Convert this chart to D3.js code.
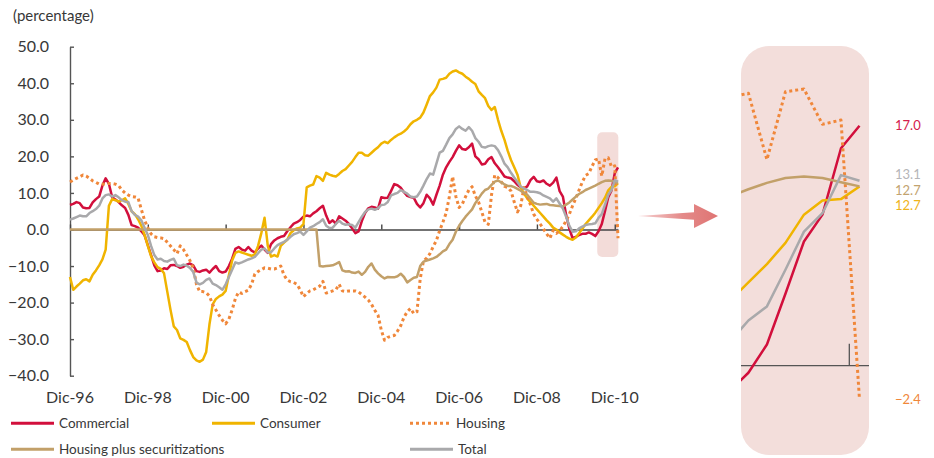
<!DOCTYPE html>
<html>
<head>
<meta charset="utf-8">
<script src="https://cdn.jsdelivr.net/npm/d3@7"></script>
<style>
  body { margin: 0; background: #fff; }
  svg { font-family: Lato, "Open Sans", sans-serif; }
</style>
</head>
<body>
<svg id="chart" width="934" height="458"></svg>
<script>
// Monthly series, Dec-96 (index 0) to Jan-11 (index 169)
const commercial = [
  6.7, 7.0, 7.5, 7.2, 6.0, 5.8, 5.9, 7.4, 8.3, 9.0,
  12.0, 14.0, 12.5, 8.8, 8.2, 7.5, 6.6, 5.9, 4.0, 1.2,
  0.9, 0.5, -0.5, -1.6, -4.3, -7.0, -9.8, -11.4, -11.2, -10.6,
  -10.8, -9.8, -9.7, -10.0, -10.5, -10.2, -9.6, -9.3, -9.8, -11.4,
  -11.6, -11.2, -11.0, -11.8, -10.8, -10.0, -11.4, -11.8, -11.5, -10.0,
  -8.0, -5.3, -4.8, -5.5, -5.8, -4.8, -5.8, -6.3, -5.2, -4.4,
  -5.5, -6.4, -4.0, -3.0, -2.4, -2.0, -1.8, -0.5, 0.6, 1.6,
  2.0, 2.6, 3.5, 3.8, 3.6, 4.4, 5.0, 5.8, 6.5, 3.8,
  1.8, 2.5, 1.6, 3.6, 3.0, 2.4, 1.5, 0.3, -1.0, -0.5,
  2.3, 4.5, 5.8, 6.2, 6.0, 5.7, 8.8, 8.6, 8.7, 10.5,
  12.4, 12.1, 11.4, 10.2, 9.2, 8.9, 8.7, 7.0, 6.0, 7.2,
  9.5, 8.5, 6.8, 9.5, 12.0, 15.0, 17.0, 18.5, 19.8, 21.5,
  23.0, 22.0, 21.8, 22.5, 23.5, 20.0, 19.2, 17.8, 18.0, 19.2,
  19.8, 18.1, 17.0, 15.8, 14.5, 14.2, 14.0, 13.2, 12.2, 11.5,
  11.2, 11.8, 13.5, 14.4, 13.2, 13.0, 13.4, 12.5, 12.0, 12.8,
  14.2, 10.5, 9.0, 4.0, 0.2, -2.4, -2.0, -1.5, -1.2, -1.2,
  -0.8, -1.2, -1.8, -0.5, 1.5, 5.1, 8.8, 10.7, 15.4, 17.0
];
const consumer = [
  -13.0, -16.5, -15.6, -14.8, -13.9, -13.6, -14.2, -12.4, -11.2, -9.8,
  -8.2, -5.5, 6.5, 8.3, 8.0, 7.6, 8.0, 8.5, 7.0, 5.0,
  4.2, 2.8, 1.0, -1.5, -4.5, -7.3, -9.0, -10.3, -10.8, -12.0,
  -17.0, -22.0, -26.5, -27.5, -29.8, -30.2, -30.8, -33.0, -34.9, -35.8,
  -36.2, -35.6, -33.5, -26.0, -20.5, -19.0, -18.3, -17.8, -16.8, -12.5,
  -8.5, -6.4, -6.0, -6.3, -6.6, -6.9, -7.2, -6.8, -4.5, -1.0,
  3.2, -4.5, -7.4, -7.0, -7.4, -4.5, -3.6, -2.8, -1.0, -0.2,
  0.3, 0.5, 1.5, 11.5, 12.0, 12.3, 14.6, 14.2, 13.3, 15.5,
  15.0, 14.7, 14.5, 15.2, 16.0, 16.5, 17.5, 18.5, 19.8, 21.0,
  21.0, 20.3, 20.2, 21.0, 21.8, 22.5, 23.5, 24.0, 23.6, 24.5,
  25.2, 25.8, 26.2, 26.8, 27.6, 28.8, 29.6, 30.0, 30.6, 32.0,
  34.2, 36.5, 37.5, 38.8, 41.0, 41.2, 41.5, 42.6, 43.2, 43.5,
  43.0, 42.6, 41.8, 41.2, 40.4, 39.8, 37.8, 36.8, 35.9, 33.8,
  32.7, 33.5, 30.0, 27.0, 24.5, 21.5, 19.0, 17.0, 15.0, 11.5,
  9.8, 8.5, 7.5, 6.5, 5.5, 4.5, 3.5, 2.5, 1.6, 0.5,
  0.0, -0.8, -1.4, -2.0, -2.5, -2.8, -2.2, -1.0, 0.2, 1.5,
  2.5, 3.5, 4.6, 5.9, 7.2, 8.7, 10.7, 11.7, 11.8, 12.7
];
const housing = [
  13.0, 13.5, 14.0, 14.4, 14.9, 14.6, 14.0, 13.3, 12.9, 12.4,
  12.4, 12.5, 12.6, 12.6, 12.4, 12.0, 10.8, 10.0, 9.4, 9.0,
  8.9, 8.6, 5.5, 2.5, 0.5, -1.2, -2.0, -2.2, -2.3, -2.5,
  -3.5, -4.5, -5.5, -6.6, -4.5, -5.5, -7.0, -8.5, -10.5, -15.0,
  -17.0, -17.0, -17.3, -18.2, -20.5, -22.0, -23.5, -24.8, -25.8, -24.5,
  -22.0, -18.9, -17.1, -17.5, -17.0, -16.6, -15.0, -12.2, -11.5, -11.0,
  -10.5, -10.6, -10.8, -10.8, -10.5, -10.0, -12.5, -13.8, -14.3, -14.5,
  -15.0, -16.5, -18.4, -17.5, -16.8, -16.5, -16.0, -15.5, -14.2, -17.4,
  -17.1, -16.8, -16.5, -15.0, -16.8, -17.0, -16.8, -16.8, -16.8, -17.1,
  -17.8, -18.5, -19.3, -20.5, -22.1, -23.5, -27.5, -30.3, -29.5, -29.2,
  -29.0, -27.8, -26.3, -24.0, -22.5, -21.6, -23.0, -22.5, -13.5, -8.6,
  -7.8, -6.6, -4.7, -3.0, -0.3, 2.0, 4.5, 9.0, 14.5, 9.0,
  6.0, 7.0, 9.0, 10.8, 11.7, 9.2, 7.5, 4.8, 2.0, 1.4,
  9.5, 14.9, 14.2, 13.0, 11.8, 11.5, 10.5, 7.5, 4.8, 6.5,
  11.5, 9.0, 6.8, 4.2, 2.8, 1.5, 0.2, -1.2, -2.4, -0.3,
  -1.1, -0.3, 0.8, 2.4, 4.2, 6.5, 8.5, 10.8, 13.0, 14.8,
  15.3, 17.3, 19.0, 19.3, 14.6, 19.4, 19.6, 17.1, 17.4, -2.4
];
const housingSec = [
  0, 0, 0, 0, 0, 0, 0, 0, 0, 0,
  0, 0, 0, 0, 0, 0, 0, 0, 0, 0,
  0, 0, 0, 0, 0, 0, 0, 0, 0, 0,
  0, 0, 0, 0, 0, 0, 0, 0, 0, 0,
  0, 0, 0, 0, 0, 0, 0, 0, 0, 0,
  0, 0, 0, 0, 0, 0, 0, 0, 0, 0,
  0, 0, 0, 0, 0, 0, 0, 0, 0, 0,
  0, 0, 0, 0, 0, 0, 0, -10.0, -10.1, -10.0,
  -9.9, -9.8, -9.4, -8.9, -11.2, -11.5, -11.4, -11.8, -11.9, -11.5,
  -12.4, -11.6, -10.2, -9.3, -11.0, -12.0, -12.8, -13.4, -13.0, -13.1,
  -13.1, -12.8, -12.1, -13.0, -14.5, -13.8, -13.2, -13.0, -10.0, -8.8,
  -8.5, -8.2, -7.9, -7.5, -6.8, -6.0, -5.5, -4.0, -2.8, -0.6,
  1.0, 2.3, 3.5, 4.5, 5.5, 7.2, 8.5, 9.8, 10.8, 11.2,
  12.2, 13.1, 13.4, 12.9, 12.3, 11.9, 11.9, 11.6, 11.1, 10.6,
  10.0, 9.5, 8.4, 7.3, 7.0, 6.8, 6.9, 7.0, 6.7, 6.6,
  6.5, 6.4, 6.3, 6.8, 7.4, 8.2, 9.0, 9.7, 10.2, 10.8,
  11.2, 11.6, 12.0, 12.5, 12.95, 13.3, 13.4, 13.3, 13.0, 12.7
];
const total = [
  2.7, 3.0, 3.4, 3.8, 3.6, 3.6, 4.5, 5.0, 5.6, 6.5,
  8.5, 9.4, 9.6, 9.0, 9.4, 8.8, 8.0, 7.6, 7.5, 5.0,
  4.0, 3.5, 2.5, 0.5, -1.5, -4.5, -7.0, -8.2, -8.0, -8.6,
  -8.8, -8.3, -8.0, -9.8, -10.0, -9.6, -9.9, -10.5, -11.6, -14.5,
  -15.0, -14.6, -13.8, -13.4, -14.8, -15.2, -15.8, -16.5, -15.0, -13.0,
  -11.0, -9.0, -9.3, -9.0, -8.6, -8.2, -7.9, -7.5, -6.5, -5.5,
  -5.2, -6.3, -6.2, -5.2, -4.3, -3.8, -3.4, -2.8, -2.0, -1.3,
  -1.0, -0.6, -1.5, -0.5, 0.5, 0.9, 1.5, 2.0, 2.8, 1.0,
  0.4, 0.5, 1.5, 2.4, 1.6, 1.3, 1.4, 1.2, 0.5, 2.0,
  3.5, 4.8, 5.5, 5.7, 5.4, 5.8, 6.7, 6.8, 7.5, 9.3,
  9.7, 10.0, 10.8, 10.3, 9.8, 9.0, 8.8, 9.0, 10.3, 12.0,
  13.8, 15.3, 15.0, 18.0, 21.0, 21.5, 23.2, 25.0, 26.0, 27.5,
  28.2, 27.5, 27.0, 28.0, 27.0, 25.0, 24.0, 22.6, 22.4, 22.8,
  23.0, 22.8, 21.7, 20.0, 18.0, 17.0, 15.5, 14.2, 13.0, 11.7,
  11.2, 10.8, 10.3, 10.3, 10.2, 9.9, 9.3, 8.9, 8.5, 7.6,
  8.5, 7.1, 5.7, 3.5, 1.0, -0.6, -0.5, 0.3, 0.8, 1.2,
  1.4, 1.5, 1.7, 3.2, 4.2, 6.8, 9.5, 10.8, 13.5, 13.1
];

const xTickIndex = [0, 24, 48, 72, 96, 120, 144, 168];
const xTickLabels = ["Dic-96", "Dic-98", "Dic-00", "Dic-02", "Dic-04", "Dic-06", "Dic-08", "Dic-10"];
const yTicks = [50, 40, 30, 20, 10, 0, -10, -20, -30, -40];

const series = [
  { name: "Commercial", values: commercial, color: "#d20f3c", label: "#d4204c", nudge: 0 },
  { name: "Consumer", values: consumer, color: "#f0b400", label: "#efb31a", nudge: 19 },
  { name: "Housing", values: housing, color: "#f0873a", label: "#f0873a", dash: "3,3", nudge: 0 },
  { name: "Housing plus securitizations", values: housingSec, color: "#c2a069", label: "#c2a36f", nudge: 4 },
  { name: "Total", values: total, color: "#a9a9ab", label: "#b5b5b8", nudge: -6 }
];

const svg = d3.select("#chart");

// Scales
const x = d3.scaleLinear().domain([0, 169]).range([70, 618]);
const y = d3.scaleLinear().domain([-40, 50]).range([375.7, 46.7]);

// Highlight box on the main chart
svg.append("rect")
  .attr("x", x(162.6)).attr("y", y(26.6))
  .attr("width", x(169.1) - x(162.6)).attr("height", y(-7.5) - y(26.6))
  .attr("rx", 5)
  .attr("fill", "#f3dcd9");

// Y axis
const yAxis = svg.append("g")
  .attr("transform", `translate(${x(0)},0)`)
  .call(d3.axisLeft(y).tickValues(yTicks).tickSizeInner(-4).tickSizeOuter(0).tickPadding(21)
    .tickFormat(d3.format(".1f")));
yAxis.select(".domain").attr("stroke", "#555").attr("stroke-width", 1.4);
yAxis.selectAll(".tick line").attr("stroke", "#555").attr("stroke-width", 1.4);
yAxis.selectAll(".tick text").attr("fill", "#383838").style("font-size", "16px")
  .style("font-family", "Lato, 'Open Sans', sans-serif");

// X axis along zero
const xAxis = svg.append("g")
  .attr("transform", `translate(0,${y(0)})`)
  .call(d3.axisBottom(x).tickValues(xTickIndex).tickSizeInner(-5).tickSizeOuter(0).tickFormat(""));
xAxis.select(".domain").attr("stroke", "#444").attr("stroke-width", 1.3);
xAxis.selectAll(".tick line").attr("stroke", "#444").attr("stroke-width", 1.4);

svg.append("g").selectAll("text")
  .data(xTickIndex)
  .enter().append("text")
  .attr("x", d => x(d))
  .attr("y", 403)
  .attr("text-anchor", "middle")
  .attr("fill", "#383838")
  .style("font-size", "16px")
  .text((d, i) => xTickLabels[i]);

svg.append("text")
  .attr("x", 13).attr("y", 21)
  .attr("fill", "#383838")
  .style("font-size", "15px")
  .text("(percentage)");

// Main lines
const line = d3.line().x((d, i) => x(i)).y(d => y(d));
svg.append("g").selectAll("path")
  .data(series)
  .enter().append("path")
  .attr("d", d => line(d.values))
  .attr("fill", "none")
  .attr("stroke", d => d.color)
  .attr("stroke-width", d => d.dash ? 3 : 2.5)
  .attr("stroke-dasharray", d => d.dash || null)
  .attr("stroke-linejoin", "round");

// Legend
const legendItems = [
  { s: series[0], lx: 11, ly: 423.3, w: 43 },
  { s: series[1], lx: 212, ly: 423.3, w: 43 },
  { s: series[2], lx: 410, ly: 423.3, w: 41 },
  { s: series[3], lx: 11, ly: 449.3, w: 43 },
  { s: series[4], lx: 410, ly: 449.3, w: 43 }
];
const legend = svg.append("g");
legend.selectAll("line")
  .data(legendItems)
  .enter().append("line")
  .attr("x1", d => d.lx).attr("x2", d => d.lx + d.w)
  .attr("y1", d => d.ly).attr("y2", d => d.ly)
  .attr("stroke", d => d.s.color)
  .attr("stroke-width", 3)
  .attr("stroke-dasharray", d => d.s.dash || null);
legend.selectAll("text")
  .data(legendItems)
  .enter().append("text")
  .attr("x", d => d.lx + d.w + 5)
  .attr("y", d => d.ly + 5)
  .attr("fill", "#383838")
  .style("font-size", "13.5px")
  .text(d => d.s.name);

// Arrow
const defs = svg.append("defs");
const grad = defs.append("linearGradient").attr("id", "arrowGrad")
  .attr("x1", "0%").attr("x2", "100%");
grad.append("stop").attr("offset", "0%").attr("stop-color", "#f6d3d3");
grad.append("stop").attr("offset", "55%").attr("stop-color", "#e48a89");
grad.append("stop").attr("offset", "100%").attr("stop-color", "#df7473");
svg.append("path")
  .attr("d", "M638,216 L694,212.3 L694,204 L718,216 L694,228 L694,219.7 Z")
  .attr("fill", "url(#arrowGrad)");

// Inset
const inset = { x0: 741, x1: 869, y0: 46, y1: 455 };
defs.append("clipPath").attr("id", "insetClip")
  .append("rect")
  .attr("x", inset.x0).attr("y", inset.y0)
  .attr("width", inset.x1 - inset.x0).attr("height", inset.y1 - inset.y0)
  .attr("rx", 28);

svg.append("rect")
  .attr("x", inset.x0).attr("y", inset.y0)
  .attr("width", inset.x1 - inset.x0).attr("height", inset.y1 - inset.y0)
  .attr("rx", 28)
  .attr("fill", "#f3dedb");

const xi = d3.scaleLinear().domain([162.6, 169]).range([741, 859.5]);
const yi = d3.scaleLinear().domain([0, 17]).range([365.7, 125.7]);

const insetG = svg.append("g").attr("clip-path", "url(#insetClip)");
insetG.append("line")
  .attr("x1", inset.x0).attr("x2", inset.x1)
  .attr("y1", yi(0)).attr("y2", yi(0))
  .attr("stroke", "#555").attr("stroke-width", 1.3);
insetG.append("line")
  .attr("x1", xi(168.45)).attr("x2", xi(168.45))
  .attr("y1", yi(0)).attr("y2", yi(0) - 22)
  .attr("stroke", "#555").attr("stroke-width", 1.3);

const start = 162;
const insetLine = d3.line().x((d, i) => xi(i + start)).y(d => yi(d));
insetG.selectAll("path.s")
  .data(series)
  .enter().append("path")
  .attr("class", "s")
  .attr("d", d => insetLine(d.values.slice(start)))
  .attr("fill", "none")
  .attr("stroke", d => d.color)
  .attr("stroke-width", d => d.dash ? 3 : 2.5)
  .attr("stroke-dasharray", d => d.dash || null)
  .attr("stroke-linejoin", "round");

// End value labels
svg.append("g").selectAll("text")
  .data(series)
  .enter().append("text")
  .attr("x", 895)
  .attr("y", d => yi(d.values[d.values.length - 1]) + d.nudge)
  .attr("dy", "0.36em")
  .attr("fill", d => d.label)
  .style("font-size", "13px")
  .text(d => d3.format(".1f")(d.values[d.values.length - 1]));
</script>
</body>
</html>
